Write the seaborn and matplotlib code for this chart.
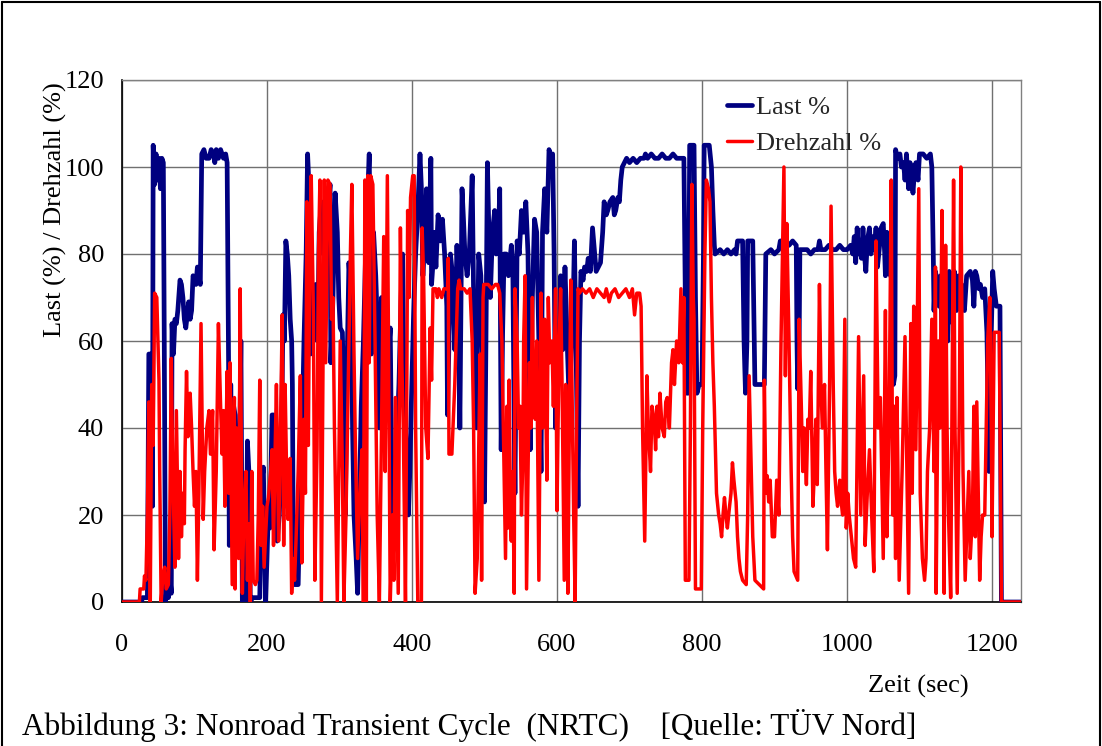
import numpy as np
import pandas as pd
import matplotlib
matplotlib.use("Agg")
import matplotlib.pyplot as plt
import seaborn as sns
from matplotlib.lines import Line2D

# ---------------- data ----------------
last_t = [0, 27, 28, 35, 37, 41, 42, 43, 45, 47, 49, 51, 53, 55, 57, 58, 60, 62, 64, 66, 68, 69, 71, 73, 75, 77,
          80, 82, 84, 86, 88, 90, 92, 94, 96, 98, 100, 102, 104, 106, 108, 110, 113, 116, 120, 123, 126, 128, 130,
          133, 136, 140, 143, 145, 147, 148, 150, 152, 154, 156, 158, 160, 162, 164, 166, 171, 173, 175, 177, 180,
          190, 193, 195, 198, 200, 202, 204, 207, 209, 212, 214, 217, 220, 222, 224, 226, 228, 230, 232, 234, 235,
          236, 238, 243, 245, 248, 251, 254, 256, 258, 260, 262, 264, 267, 270, 272, 275, 278, 281, 284, 287, 288,
          291, 294, 297, 299, 301, 304, 306, 308, 310, 313, 316, 318, 320, 323, 325, 327, 330, 333, 336, 338, 341,
          344, 347, 350, 353, 355, 358, 360, 362, 365, 368, 370, 372, 373, 376, 378, 382, 385, 387, 389, 392, 395,
          397, 399, 402, 405, 408, 411, 413, 415, 418, 420, 423, 426, 427, 429, 431, 433, 436, 439, 442, 445, 448,
          449, 451, 453, 456, 459, 462, 464, 466, 469, 471, 473, 476, 479, 483, 485, 487, 489, 492, 495, 498, 500,
          502, 504, 506, 508, 511, 514, 516, 519, 521, 523, 525, 527, 530, 533, 537, 539, 541, 542, 545, 548, 551,
          554, 557, 560, 563, 566, 569, 572, 575, 578, 580, 583, 586, 589, 592, 594, 596, 598, 600, 602, 605, 608,
          611, 614, 617, 620, 622, 624, 627, 629, 631, 633, 636, 638, 641, 643, 646, 649, 652, 654, 657, 660, 663,
          665, 668, 670, 673, 677, 679, 681, 684, 686, 688, 690, 693, 696, 700, 705, 710, 715, 720, 722, 725, 730,
          735, 740, 745, 750, 755, 760, 765, 770, 775, 777, 779, 781, 783, 789, 791, 793, 796, 800, 802, 803, 810,
          813, 815, 817, 818, 825, 830, 835, 840, 845, 847, 849, 856, 858, 860, 862, 863, 870, 872, 873, 886, 888,
          895, 900, 906, 908, 915, 920, 925, 930, 931, 932, 934, 935, 945, 950, 955, 960, 962, 964, 970, 975, 980,
          985, 990, 995, 1000, 1005, 1008, 1010, 1012, 1014, 1016, 1018, 1020, 1022, 1024, 1026, 1028, 1031, 1033,
          1036, 1038, 1040, 1042, 1045, 1047, 1050, 1052, 1053, 1055, 1058, 1060, 1063, 1064, 1066, 1067, 1070,
          1073, 1075, 1078, 1080, 1082, 1085, 1087, 1089, 1091, 1093, 1095, 1098, 1100, 1105, 1110, 1115, 1117,
          1119, 1120, 1122, 1124, 1127, 1129, 1132, 1135, 1137, 1139, 1141, 1144, 1146, 1148, 1151, 1154, 1156,
          1158, 1160, 1162, 1165, 1170, 1173, 1175, 1177, 1179, 1182, 1184, 1187, 1190, 1193, 1196, 1198, 1201,
          1203, 1206, 1211, 1213, 1240]
last_v = [0, 0, 1, 1, 57, 57, 22, 105, 96, 103, 97, 102, 95, 102, 101, 70, 0, 3, 1, 6, 2, 64, 57, 65, 64, 67,
          74, 73, 70, 65, 63, 66, 69, 65, 67, 75, 74, 73, 77, 75, 73, 103, 104, 102, 102, 104, 103, 101, 104,
          102, 104, 102, 103, 101, 55, 13, 50, 25, 45, 43, 20, 40, 30, 60, 0, 0, 37, 30, 0, 1,
          1, 28, 31, 0, 10, 22, 17, 43, 43, 25, 14, 20, 35, 66, 60, 83, 80, 75, 65, 60, 50,
          20, 4, 4, 20, 35, 60, 80, 103, 95, 57, 70, 60, 73, 60, 85, 92, 80, 95, 90, 96, 55,
          70, 94, 85, 70, 63, 62, 45, 20, 50, 78, 70, 40, 20, 10, 2, 20, 45, 60, 80, 90, 103,
          57, 85, 75, 60, 40, 70, 55, 45, 60, 58, 63, 30, 10, 20, 32, 50, 70, 80, 50, 35, 20,
          30, 45, 65, 80, 90, 103, 95, 75, 85, 95, 78, 102, 73, 78, 85, 77, 89, 83, 88, 80, 68,
          43, 60, 80, 75, 58, 82, 70, 40, 95, 88, 80, 75, 80, 98, 70, 55, 40, 80, 75, 50, 23,
          60, 101, 85, 70, 85, 90, 80, 82, 95, 35, 62, 80, 80, 75, 82, 78, 40, 25, 83, 80, 90,
          85, 92, 80, 35, 70, 88, 85, 60, 30, 85, 95, 85, 104, 102, 103, 80, 40, 55, 50, 75, 58,
          77, 60, 45, 60, 65, 83, 50, 22, 60, 76, 74, 77, 76, 79, 76, 86, 80, 76, 77, 78, 85,
          92, 89, 90, 92, 93, 89, 90, 93, 92, 97, 100, 101, 102, 101, 102, 101, 102, 102, 103, 102, 103,
          102, 102, 103, 102, 102, 103, 102, 102, 102, 70, 48, 48, 105, 105, 70, 48, 50, 50, 80, 105, 105,
          100, 90, 82, 80, 81, 80, 81, 80, 81, 80, 83, 83, 60, 48, 60, 83, 83, 60, 50, 50, 80,
          81, 80, 81, 83, 83, 82, 83, 82, 60, 49, 60, 81, 81, 80, 81, 81, 83, 81, 81, 82, 81,
          81, 82, 81, 81, 82, 80, 84, 78, 86, 80, 83, 79, 86, 80, 76, 83, 86, 80,
          84, 81, 86, 77, 82, 86, 87, 80, 75, 85, 80, 75, 86, 50, 52, 104, 102,
          103, 100, 101, 97, 103, 95, 101, 98, 94, 99, 101, 97, 103, 103, 102, 103, 100,
          80, 67, 76, 74, 68, 75, 55, 70, 72, 60, 76, 70, 64, 76, 67, 75, 70,
          73, 68, 67, 75, 76, 74, 68, 76, 75, 72, 73, 70, 72, 62, 30, 55, 76,
          72, 68, 68, 0, 0]

drehzahl_t = [0, 24, 25, 30, 31, 33, 35, 37, 39, 41, 43, 45, 48, 51, 52, 54, 56, 59, 61, 64, 66, 68, 70, 73, 75,
              78, 80, 82, 84, 86, 87, 89, 91, 94, 96, 98, 100, 102, 104, 106, 109, 112, 114, 117, 120, 122, 125,
              127, 130, 133, 136, 138, 140, 142, 145, 147, 149, 152, 155, 156, 158, 161, 163, 166, 168, 171, 173,
              175, 177, 179, 181, 184, 186, 188, 190, 192, 194, 196, 198, 200, 202, 205, 207, 209, 211, 213, 216,
              218, 221, 223, 225, 227, 229, 232, 234, 236, 238, 240, 243, 246, 248, 251, 253, 255, 257, 259, 261,
              264, 266, 269, 271, 273, 275, 277, 279, 281, 284, 287, 289, 291, 293, 295, 297, 299, 301, 304, 306,
              309, 312, 315, 317, 320, 322, 325, 328, 331, 333, 335, 337, 339, 341, 343, 346, 349, 352, 355, 358,
              361, 363, 366, 368, 370, 373, 375, 377, 381, 384, 386, 388, 391, 393, 394, 396, 398, 401, 403, 405,
              408, 413, 414, 416, 419, 422, 425, 427, 429, 433, 435, 437, 441, 444, 449, 450, 451, 455, 459, 463,
              465, 467, 472, 476, 480, 483, 485, 487, 490, 492, 494, 496, 498, 499, 505, 510, 515, 518, 521, 524,
              527, 529, 531, 532, 534, 536, 537, 539, 541, 542, 545, 547, 549, 551, 553, 554, 556, 558, 560, 562,
              564, 566, 568, 570, 572, 575, 577, 578, 580, 583, 586, 588, 590, 593, 595, 598, 600, 603, 605, 607,
              610, 612, 614, 615, 617, 619, 621, 623, 625, 627, 629, 631, 635, 640, 645, 650, 655, 660, 665, 668,
              672, 675, 680, 685, 690, 695, 700, 704, 707, 710, 714, 716, 718, 721, 724, 726, 729, 731, 734, 736,
              738, 740, 742, 745, 748, 750, 752, 755, 758, 760, 762, 765, 768, 771, 773, 775, 777, 782, 784, 786,
              788, 789, 791, 799, 801, 804, 806, 809, 811, 813, 815, 817, 820, 823, 825, 827, 829, 831, 833, 835,
              838, 840, 842, 844, 847, 849, 851, 853, 856, 861, 863, 865, 868, 870, 873, 885, 886, 888, 890, 892,
              894, 897, 900, 903, 906, 909, 911, 913, 915, 917, 920, 923, 925, 927, 932, 934, 937, 939, 941, 944,
              946, 948, 950, 953, 955, 957, 959, 962, 964, 966, 969, 971, 973, 976, 978, 981, 983, 985, 987, 990,
              992, 994, 997, 999, 1001, 1003, 1006, 1009, 1012, 1016, 1019, 1023, 1025, 1028, 1031, 1034, 1037,
              1040, 1043, 1046, 1048, 1050, 1053, 1055, 1058, 1061, 1063, 1065, 1067, 1069, 1072, 1076, 1080, 1085,
              1088, 1090, 1092, 1095, 1099, 1101, 1104, 1107, 1109, 1111, 1114, 1117, 1120, 1122, 1123, 1126, 1128,
              1131, 1134, 1136, 1138, 1140, 1143, 1147, 1149, 1152, 1155, 1157, 1160, 1163, 1165, 1168, 1170, 1173,
              1175, 1177, 1179, 1181, 1183, 1185, 1187, 1190, 1192, 1194, 1197, 1199, 1200, 1203, 1210, 1213, 1240]
drehzahl_v = [0, 0, 3, 3, 6, 5, 20, 46, 0, 50, 36, 71, 70, 51, 30, 0, 5, 8, 3, 4, 20, 56, 30, 8, 44,
              10, 30, 15, 25, 18, 35, 53, 38, 48, 40, 30, 22, 30, 5, 25, 64, 19, 30, 40, 44, 34, 44,
              12, 30, 64, 45, 34, 44, 22, 53, 25, 55, 4, 47, 3, 40, 10, 72, 2, 20, 30, 5,
              18, 0, 30, 5, 4, 5, 20, 51, 13, 22, 8, 15, 22, 24, 30, 35, 13, 33, 50, 14,
              33, 66, 13, 50, 30, 19, 33, 2, 10, 5, 14, 30, 52, 9, 42, 25, 92, 36, 80, 98,
              66, 5, 35, 80, 97, 0, 50, 97, 55, 97, 96, 65, 70, 40, 20, 0, 30, 60, 30, 0,
              20, 50, 80, 96, 57, 35, 10, 25, 35, 0, 97, 0, 98, 55, 98, 96, 60, 20, 0, 40,
              84, 30, 98, 50, 0, 20, 5, 47, 2, 86, 55, 40, 0, 55, 90, 70, 93, 98, 98, 40,
              0, 0, 86, 75, 40, 33, 63, 51, 72, 72, 70, 72, 70, 72, 72, 79, 34, 34, 50, 72,
              74, 72, 72, 71, 72, 60, 40, 2, 10, 35, 57, 5, 70, 73, 73, 72, 73, 73, 71, 60,
              30, 10, 45, 17, 51, 17, 14, 30, 2, 72, 60, 40, 45, 20, 34, 60, 75, 3, 30, 55,
              40, 70, 45, 42, 60, 5, 50, 71, 40, 65, 28, 70, 55, 60, 45, 72, 21, 60, 72, 50,
              5, 50, 30, 2, 40, 74, 45, 20, 0, 40, 72, 71, 72, 71, 72, 70, 72, 71, 70, 72,
              69, 71, 72, 70, 71, 72, 70, 72, 66, 71, 71, 68, 40, 14, 52, 40, 30, 45, 42, 35,
              45, 38, 48, 40, 38, 46, 47, 40, 55, 58, 50, 60, 55, 72, 55, 70, 5, 5, 40, 96,
              70, 65, 3, 3, 40, 80, 97, 95, 92, 70, 55, 45, 25, 20, 18, 15, 20, 24, 20, 17,
              22, 25, 32, 28, 23, 15, 10, 7, 5, 4, 20, 52, 30, 15, 5, 3, 51, 25, 29, 23,
              28, 15, 15, 28, 20, 60, 80, 100, 52, 87, 60, 30, 15, 7, 5, 65, 45, 30, 40, 27,
              42, 40, 53, 22, 30, 42, 27, 73, 50, 40, 50, 30, 12, 50, 91, 50, 30, 25, 22, 28,
              23, 20, 65, 17, 25, 20, 15, 10, 8, 61, 20, 52, 13, 25, 35, 20, 7,
              83, 40, 47, 28, 10, 67, 15, 40, 97, 20, 45, 10, 47, 5, 30, 61, 2,
              64, 25, 68, 35, 95, 25, 10, 5, 10, 30, 40, 65, 30, 77, 2, 60, 40,
              90, 2, 82, 40, 20, 1, 97, 40, 2, 45, 100, 30, 5, 15, 30, 10, 20,
              45, 15, 46, 25, 5, 15, 20, 20, 40, 60, 70, 40, 15, 62, 62, 0, 0]

x_ticks = [0, 200, 400, 600, 800, 1000, 1200]
y_ticks = [0, 20, 40, 60, 80, 100, 120]
series_names = ["Last %", "Drehzahl %"]

# ---------------- figure ----------------
sns.set_theme(style="white")
plt.rcParams["font.family"] = ["Liberation Serif", "DejaVu Serif"]

W, H = 1102, 746
fig = plt.figure(figsize=(W / 100, H / 100), dpi=100)
fig.patch.set_facecolor("white")

def fx(px):
    return px / W

def fy(py):
    return 1 - py / H

ax_l, ax_r, ax_t, ax_b = 122, 1021, 80, 602
ax = fig.add_axes([fx(ax_l), fy(ax_b), (ax_r - ax_l) / W, (ax_b - ax_t) / H])
ax.set_facecolor("white")

df_last = pd.DataFrame({"t": last_t, "v": last_v})
df_dreh = pd.DataFrame({"t": drehzahl_t, "v": drehzahl_v})

LW_LAST, LW_DREH = 3.4, 2.5
sns.lineplot(data=df_last, x="t", y="v", ax=ax, color="#000080", linewidth=LW_LAST,
             estimator=None, sort=False, label=series_names[0], zorder=3)
sns.lineplot(data=df_dreh, x="t", y="v", ax=ax, color="#FF0000", linewidth=LW_DREH,
             estimator=None, sort=False, label=series_names[1], zorder=4)

ax.set_xlim(0, 1240)
ax.set_ylim(0, 120)
ax.set_xticks(x_ticks)
ax.set_yticks(y_ticks)
ax.set_xlabel("")
ax.set_ylabel("")
ax.grid(True, color="#707070", linewidth=1.0, zorder=0)
ax.set_axisbelow(True)
for s in ["top", "right"]:
    ax.spines[s].set_color("#808080")
    ax.spines[s].set_linewidth(1.0)
for s in ["left", "bottom"]:
    ax.spines[s].set_color("black")
    ax.spines[s].set_linewidth(1.2)
ax.tick_params(axis="both", which="major", direction="out", length=5, width=1,
               color="black", labelsize=19, labelcolor="black")
ax.tick_params(axis="x", pad=18)
ax.tick_params(axis="y", pad=8)

leg = ax.legend(loc="upper left", bbox_to_anchor=(fx(727), fy(96)), bbox_transform=fig.transFigure,
                frameon=False, fontsize=19, handlelength=0.95, handletextpad=0.15,
                labelspacing=0.47, borderpad=0, borderaxespad=0)
for h, lw in zip(leg.get_lines(), [LW_LAST, LW_DREH]):
    h.set_linewidth(lw)

fig.text(fx(55), fy(210), "Last (%) / Drehzahl (%)", rotation=90, ha="center", va="center",
         fontsize=19, color="black")
fig.text(fx(918), fy(686), "Zeit (sec)", ha="center", va="center", fontsize=19, color="black")
fig.text(fx(22), fy(735), "Abbildung 3: Nonroad Transient Cycle  (NRTC)    [Quelle: T\u00dcV Nord]",
         ha="left", va="baseline", fontsize=22.5, color="black")

# outer frame
for (x0, y0, x1, y1) in [(2, 2, 2, 746), (2, 2, 1100, 2), (1100, 2, 1100, 746)]:
    fig.add_artist(Line2D([fx(x0), fx(x1)], [fy(y0), fy(y1)], color="black", linewidth=1.5,
                          transform=fig.transFigure))

fig.savefig("out.png", dpi=100, facecolor="white")
